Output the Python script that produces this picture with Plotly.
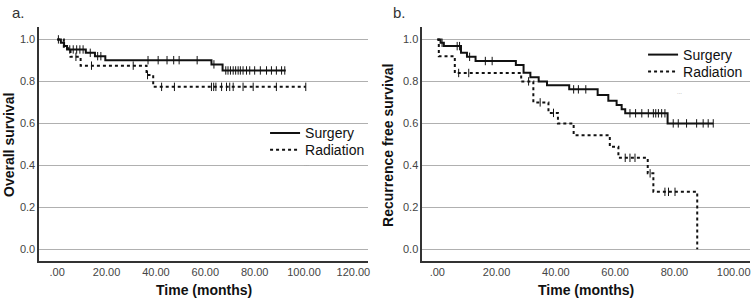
import numpy as np
import plotly.graph_objects as go

# ---------------- data ----------------
# Panel a: overall survival
a_surg_t = [0, 1.5, 2.8, 4.0, 11.6, 15.3, 19.5, 62.5, 67.0, 92.6]
a_surg_s = [1.0, 0.984, 0.968, 0.952, 0.936, 0.92, 0.901, 0.881, 0.852, 0.852]
a_surg_c = [0.5, 5.1, 6.5, 7.9, 9.2, 10.5, 13.4, 16.4, 17.7, 36.8, 40.9, 44.5, 47.2,
            49.4, 56.7, 63.5, 68.3, 69.2, 70.2, 71.3, 72.3, 73.3, 74.2, 75.3, 76.7,
            78.0, 80.0, 82.3, 84.8, 86.8, 88.8, 90.9, 92.2]
a_rad_t = [0, 2.7, 5.4, 9.5, 36.2, 38.9, 100.7]
a_rad_s = [1.0, 0.958, 0.917, 0.875, 0.83, 0.774, 0.774]
a_rad_c = [7.6, 13.9, 30.8, 36.6, 42.3, 47.5, 62.5, 63.4, 64.3, 66.6, 68.6, 69.9,
           71.3, 75.3, 79.4, 88.8, 100.7]

# Panel b: recurrence free survival
b_surg_t = [0, 1.1, 2.2, 8.0, 10.0, 12.9, 26.5, 29.1, 31.4, 34.2, 37.0, 44.5, 54.1,
            57.7, 60.5, 62.2, 63.4, 77.7, 93.1]
b_surg_s = [1.0, 0.984, 0.968, 0.936, 0.917, 0.897, 0.878, 0.841, 0.82, 0.80, 0.782,
            0.762, 0.735, 0.708, 0.687, 0.667, 0.648, 0.60, 0.60]
b_surg_c = [1.6, 6.7, 7.5, 10.9, 16.2, 18.5, 46.0, 47.6, 50.1, 65.0, 66.9, 69.0, 71.2,
            72.9, 73.7, 74.6, 75.7, 76.8, 79.6, 81.3, 84.1, 87.5, 89.7, 91.4, 93.1]
b_rad_t = [0, 0.5, 5.9, 28.3, 32.4, 37.5, 40.7, 46.0, 58.2, 61.1, 71.0, 72.9, 87.7]
b_rad_s = [1.0, 0.92, 0.84, 0.80, 0.70, 0.65, 0.60, 0.544, 0.489, 0.436, 0.362, 0.274, 0.0]
b_rad_c = [7.2, 10.6, 30.8, 34.7, 39.2, 63.4, 65.0, 66.7, 71.8, 76.8, 78.0, 80.2]

x_a_ticks = [0, 20, 40, 60, 80, 100, 120]
x_a_text = [".00", "20.00", "40.00", "60.00", "80.00", "100.00", "120.00"]
x_b_ticks = [0, 20, 40, 60, 80, 100]
x_b_text = [".00", "20.00", "40.00", "60.00", "80.00", "100.00"]
y_ticks = [0.0, 0.2, 0.4, 0.6, 0.8, 1.0]

FONT = "Liberation Sans, Arial, sans-serif"


def step_at(ts, ss, c):
    ts = np.asarray(ts)
    ss = np.asarray(ss)
    idx = np.searchsorted(ts, np.asarray(c), side="right") - 1
    return ss[np.clip(idx, 0, len(ss) - 1)]


fig = go.Figure()


def add_group(t, s, c, name, dash, xa, ya, legend):
    fig.add_trace(go.Scatter(x=t, y=s, mode="lines", line=dict(shape="hv", color="#111", width=2, dash=dash),
                             name=name, xaxis=xa, yaxis=ya, legend=legend, showlegend=True))
    fig.add_trace(go.Scatter(x=c, y=step_at(t, s, c), mode="markers",
                             marker=dict(symbol="line-ns", size=6, line=dict(color="#111", width=1)),
                             xaxis=xa, yaxis=ya, showlegend=False, hoverinfo="skip"))


add_group(a_surg_t, a_surg_s, a_surg_c, "Surgery", "solid", "x", "y", "legend")
add_group(a_rad_t, a_rad_s, a_rad_c, "Radiation", "dot", "x", "y", "legend2")
add_group(b_surg_t, b_surg_s, b_surg_c, "Surgery", "solid", "x2", "y2", "legend3")
add_group(b_rad_t, b_rad_s, b_rad_c, "Radiation", "dot", "x2", "y2", "legend4")

ydom = [0.131, 0.91]
yax = dict(range=[-0.054, 1.059], tickvals=y_ticks, tickformat=".1f", showgrid=True,
           gridcolor="#b0b0b0", gridwidth=1, zeroline=False, showline=True, linecolor="#333",
           linewidth=1.5, ticks="", tickfont=dict(size=11, color="#444", family=FONT),
           domain=ydom, fixedrange=True)
xax = dict(showgrid=False, zeroline=False, showline=True, linecolor="#333", linewidth=1.5,
           ticks="", tickfont=dict(size=11, color="#444", family=FONT), fixedrange=True)


def leg(x, y):
    return dict(x=x, y=y, xanchor="left", yanchor="top", bgcolor="rgba(0,0,0,0)",
                font=dict(size=14, color="#111", family=FONT), itemwidth=30)


fig.update_layout(
    width=755, height=300, margin=dict(l=0, r=0, t=0, b=0),
    paper_bgcolor="white", plot_bgcolor="white",
    font=dict(family=FONT, color="#111"),
    xaxis=dict(xax, domain=[0.052, 0.489], range=[-7.3, 126], tickvals=x_a_ticks, ticktext=x_a_text, anchor="y"),
    yaxis=dict(yax, anchor="x"),
    xaxis2=dict(xax, domain=[0.5607, 0.9956], range=[-5.1, 105.4], tickvals=x_b_ticks, ticktext=x_b_text, anchor="y2"),
    yaxis2=dict(yax, anchor="x2"),
    legend=leg(0.352, 0.609),
    legend2=leg(0.352, 0.553),
    legend3=leg(0.854, 0.87),
    legend4=leg(0.854, 0.814),
    showlegend=True,
)

ann = [
    dict(text="a.", x=10 / 755, y=1 - 12 / 300, xref="paper", yref="paper", showarrow=False,
         xanchor="left", yanchor="middle", font=dict(size=15, color="#333")),
    dict(text="b.", x=392 / 755, y=1 - 12 / 300, xref="paper", yref="paper", showarrow=False,
         xanchor="left", yanchor="middle", font=dict(size=15, color="#333")),
    dict(text="<b>Overall survival</b>", x=9 / 755, y=1 - 145 / 300, xref="paper", yref="paper",
         showarrow=False, textangle=-90, xanchor="center", yanchor="middle", font=dict(size=14, color="#111")),
    dict(text="<b>Recurrence free survival</b>", x=389 / 755, y=1 - 145 / 300, xref="paper", yref="paper",
         showarrow=False, textangle=-90, xanchor="center", yanchor="middle", font=dict(size=14, color="#111")),
    dict(text="<b>Time (months)</b>", x=0.5, y=1 - 290 / 300, xref="x domain", yref="paper",
         showarrow=False, xanchor="center", yanchor="middle", font=dict(size=14, color="#111")),
    dict(text="<b>Time (months)</b>", x=0.5, y=1 - 290 / 300, xref="x2 domain", yref="paper",
         showarrow=False, xanchor="center", yanchor="middle", font=dict(size=14, color="#111")),
    dict(text="...", x=307 / 755, y=1 - 164 / 300, xref="paper", yref="paper", showarrow=False,
         font=dict(size=6, color="#999")),
    dict(text="...", x=686 / 755, y=1 - 87 / 300, xref="paper", yref="paper", showarrow=False,
         font=dict(size=6, color="#999")),
]
fig.update_layout(annotations=ann)

fig.write_html("out.html")
